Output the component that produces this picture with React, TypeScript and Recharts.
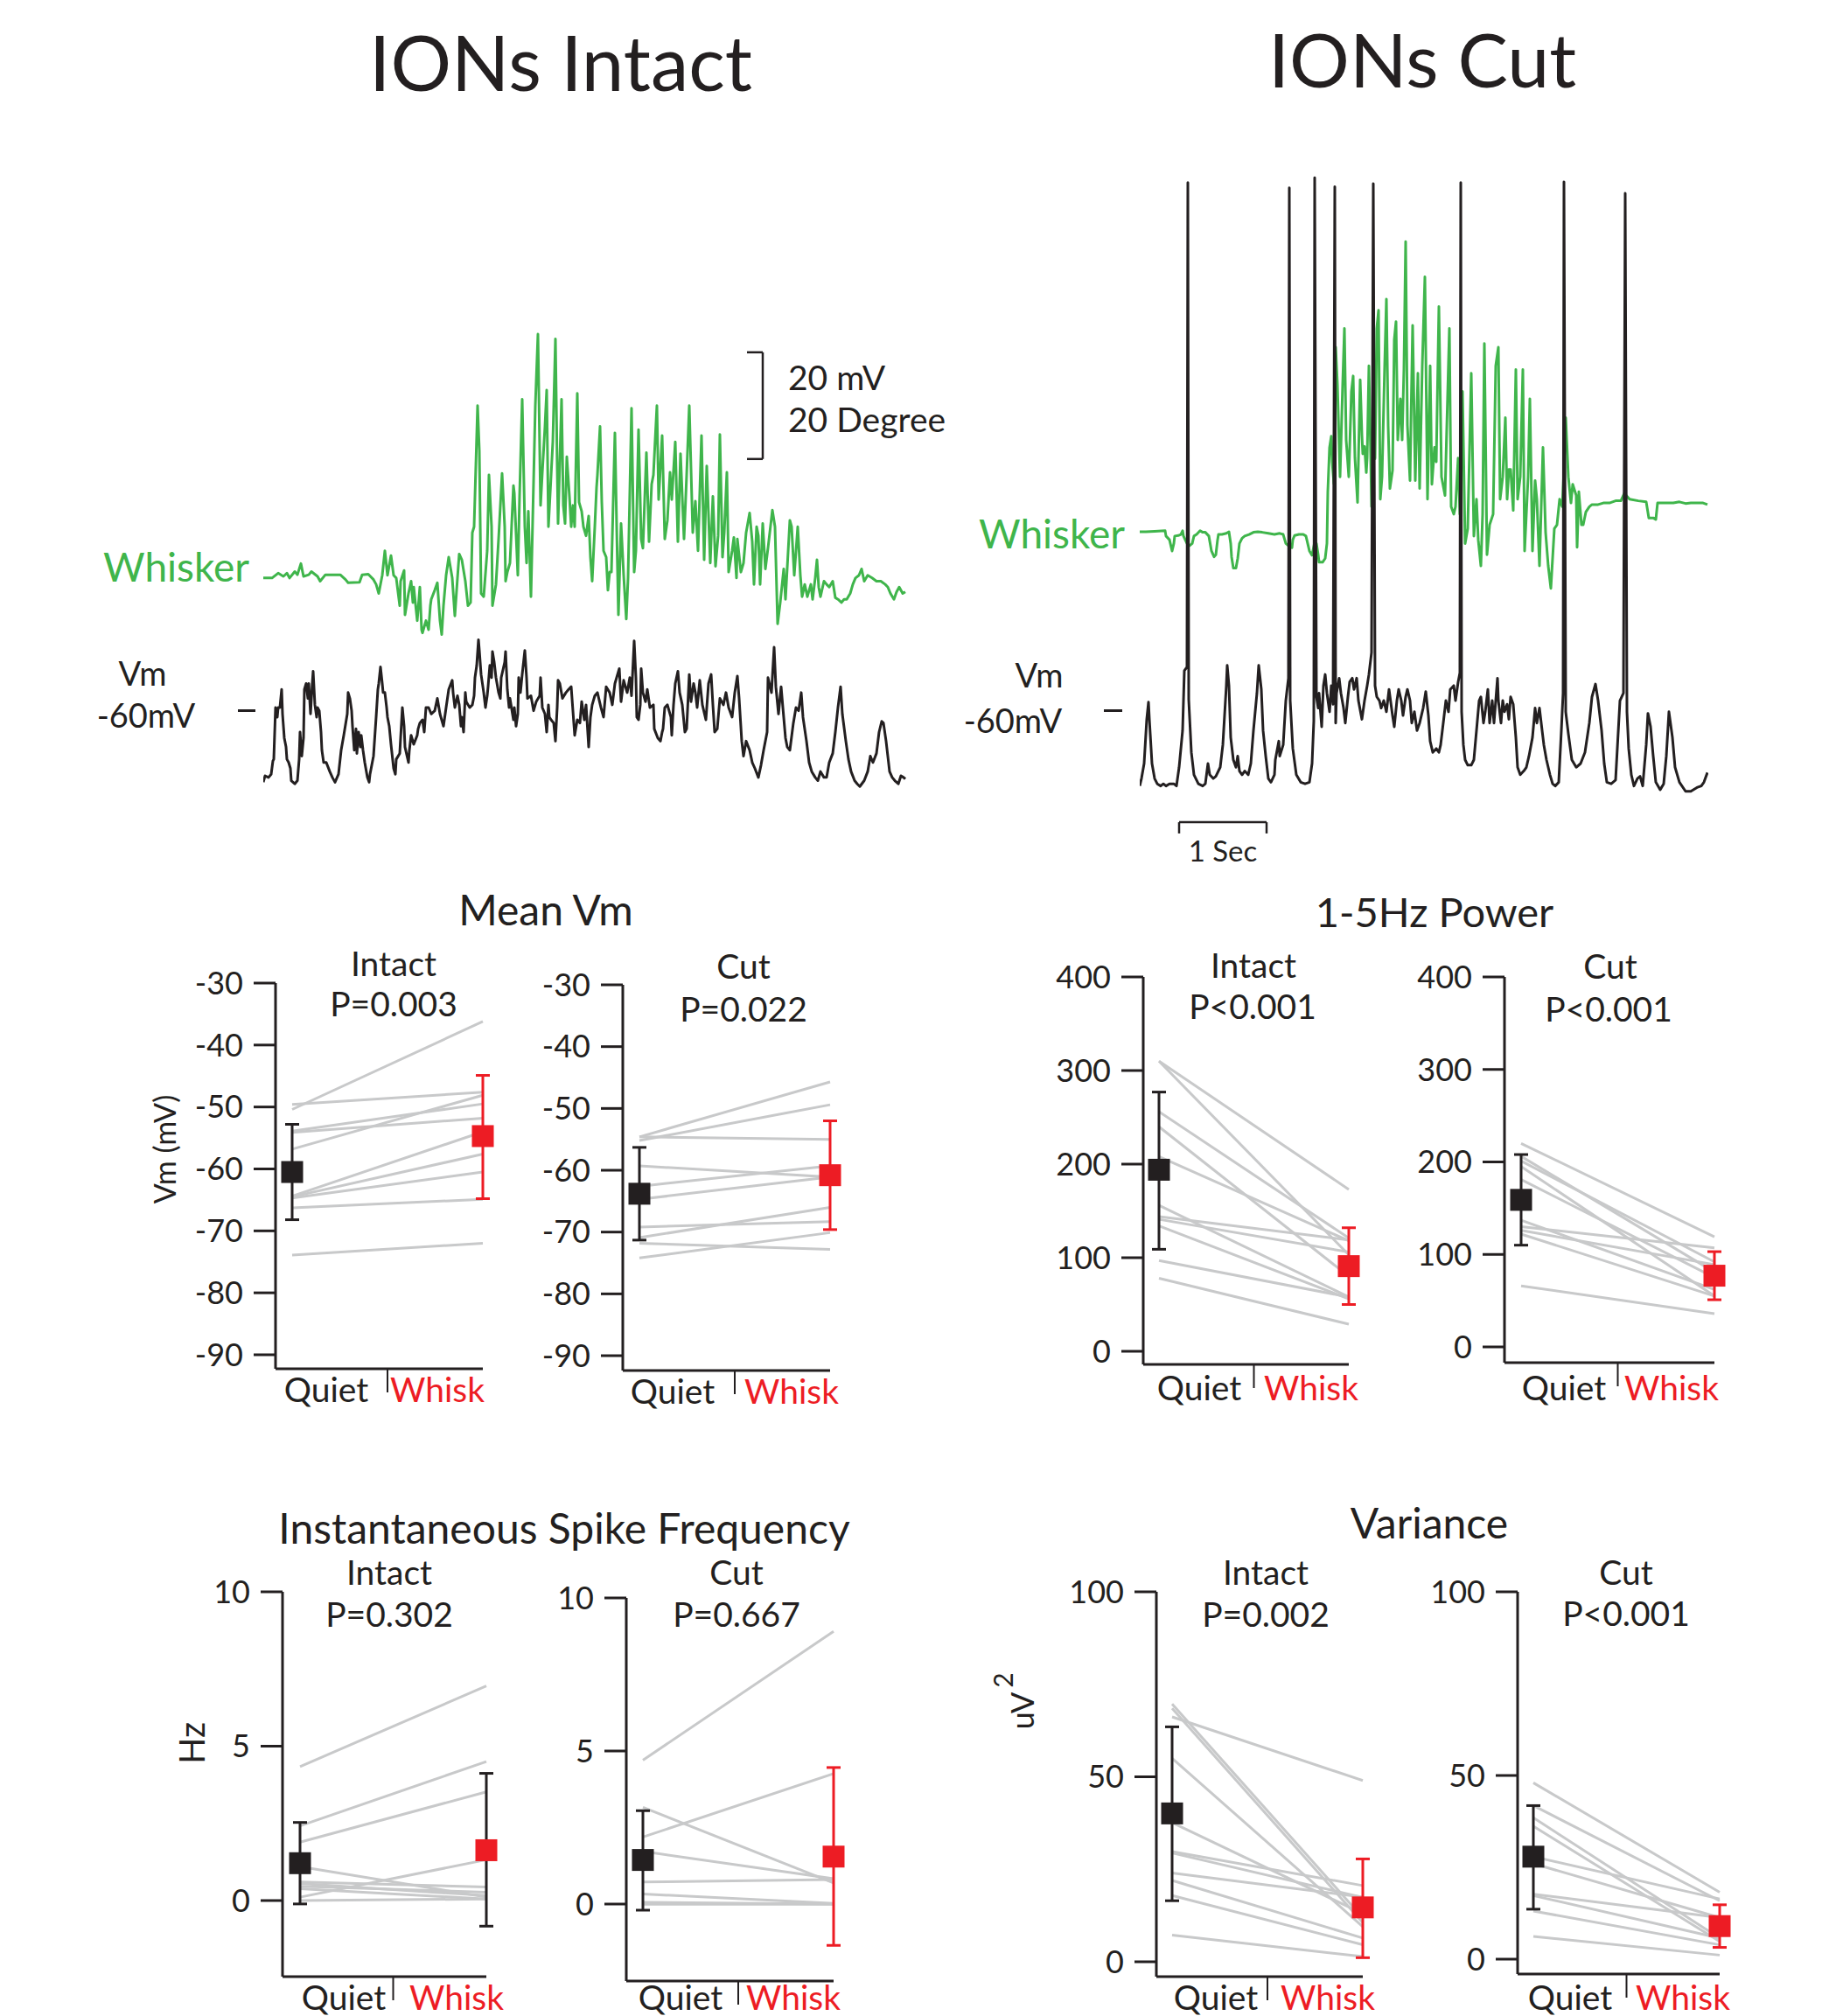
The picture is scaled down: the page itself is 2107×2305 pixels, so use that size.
import React from "react";
import { ComposedChart, Line, XAxis, YAxis, Scatter, ErrorBar, ReferenceLine } from "recharts";

const FONT = "Lato, 'Open Sans', sans-serif";
const INK = "#231f20";
const GREEN = "#3fb54b";
const RED = "#ed1c24";
const GRAY = "#c8c9ca";

// ---- example traces: [time (s), value] ----
// whisker angle (deg, relative to rest) and Vm (mV), ions intact
const intactWhisker: [number, number][] = [
  [0.0, -0.3], [0.1, -0.3], [0.17, 0.6], [0.23, 0.0], [0.27, 0.6], [0.3, -0.3], [0.36, 0.9], [0.39, 0.3], [0.43, 2.4], [0.46, 0.0],
  [0.52, 0.3], [0.55, 0.9], [0.62, 0.0], [0.65, -0.9], [0.71, 0.3], [0.88, 0.3], [0.94, -0.6], [0.97, -1.2], [1.1, -1.1], [1.13, 0.3],
  [1.2, 0.4], [1.26, -0.6], [1.29, -1.5], [1.32, -3.2], [1.36, 0.2], [1.39, 4.8], [1.42, 0.2], [1.46, 3.9], [1.49, 0.2], [1.52, -0.3],
  [1.56, -5.5], [1.57, -0.9], [1.61, 1.1], [1.62, -7.2], [1.66, -3.2], [1.69, -0.9], [1.71, -4.9], [1.72, -2.0], [1.76, -8.3], [1.79, -2.0],
  [1.81, -10.0], [1.82, -10.6], [1.86, -8.3], [1.89, -10.0], [1.91, -5.5], [1.92, -4.3], [1.96, -2.6], [1.99, -1.2], [2.02, -8.3], [2.04, -10.9],
  [2.06, -5.5], [2.09, 0.2], [2.12, 3.6], [2.16, -0.3], [2.19, -7.4], [2.22, -0.3], [2.24, 4.2], [2.27, 3.1], [2.31, -0.9], [2.34, -5.5],
  [2.37, -4.9], [2.39, 8.2], [2.41, 9.3], [2.45, 32.0], [2.47, 23.5], [2.49, -3.2], [2.52, -3.8], [2.56, 4.8], [2.58, 19.0], [2.61, 9.3],
  [2.62, -5.5], [2.66, -1.5], [2.69, 7.0], [2.73, 19.3], [2.76, 9.3], [2.77, -0.9], [2.79, 0.8], [2.82, 2.5], [2.86, 17.0], [2.87, 15.6],
  [2.91, 0.2], [2.93, 15.0], [2.96, 33.2], [2.99, 9.3], [3.01, 2.5], [3.03, 12.2], [3.06, -3.8], [3.08, 10.5], [3.11, 32.0], [3.14, 45.4],
  [3.17, 13.3], [3.19, 19.5], [3.22, 28.0], [3.24, 34.9], [3.26, 9.3], [3.31, 25.2], [3.34, 44.5], [3.36, 20.7], [3.37, 9.9], [3.41, 33.2],
  [3.43, 13.3], [3.45, 9.9], [3.47, 22.4], [3.5, 15.0], [3.52, 9.3], [3.54, 13.3], [3.56, 9.3], [3.59, 34.3], [3.61, 13.9], [3.64, 12.2],
  [3.66, 9.3], [3.69, 7.6], [3.72, 11.3], [3.74, 3.6], [3.76, -0.9], [3.79, 9.3], [3.81, 16.7], [3.82, 19.0], [3.85, 28.1], [3.87, 13.9],
  [3.89, 4.8], [3.92, 3.6], [3.94, -2.6], [3.96, 0.8], [3.98, 0.8], [4.02, 26.9], [4.04, 9.3], [4.06, -7.2], [4.09, 9.9], [4.12, 0.2],
  [4.15, -8.0], [4.17, -0.3], [4.21, 31.5], [4.24, 0.8], [4.26, 4.8], [4.29, 27.5], [4.32, 7.0], [4.34, 5.3], [4.38, 23.2], [4.41, 6.5],
  [4.44, 17.3], [4.46, 19.0], [4.5, 32.0], [4.52, 14.4], [4.56, 26.4], [4.59, 7.0], [4.62, 10.5], [4.65, 19.5], [4.67, 14.4], [4.71, 25.2],
  [4.74, 6.5], [4.77, 23.0], [4.81, 7.0], [4.84, 19.0], [4.87, 32.0], [4.91, 8.2], [4.94, 14.1], [4.97, 4.8], [5.01, 26.4], [5.04, 3.1],
  [5.07, 20.7], [5.11, 2.5], [5.14, 15.0], [5.17, 1.9], [5.2, 7.6], [5.22, 26.6], [5.25, 3.6], [5.27, 8.2], [5.3, 19.5], [5.32, 0.8],
  [5.36, 4.8], [5.38, 7.3], [5.41, -0.3], [5.42, 7.0], [5.46, 0.8], [5.49, 2.5], [5.52, 8.2], [5.56, 11.9], [5.59, 6.5], [5.61, -1.5],
  [5.64, 9.3], [5.66, 7.6], [5.68, -1.5], [5.71, 9.9], [5.74, 1.4], [5.77, 5.3], [5.82, 12.4], [5.85, 9.3], [5.88, -8.9], [5.91, -4.9],
  [5.95, 1.4], [5.97, -4.3], [6.02, 10.5], [6.04, 9.3], [6.07, 0.2], [6.11, 9.3], [6.14, 0.2], [6.16, -3.8], [6.19, -1.5], [6.22, -3.8],
  [6.26, -1.5], [6.28, -4.3], [6.31, -0.3], [6.33, 3.1], [6.35, -2.0], [6.37, -3.8], [6.41, -0.9], [6.44, -1.5], [6.47, -2.0], [6.51, -0.9],
  [6.54, -4.0], [6.57, -4.3], [6.61, -4.9], [6.64, -4.3], [6.67, -4.3], [6.71, -3.2], [6.74, -1.5], [6.77, -0.3], [6.81, 0.2], [6.84, 1.4],
  [6.87, -0.9], [6.91, 0.2], [6.96, -0.3], [7.01, -0.9], [7.06, -0.9], [7.11, -1.5], [7.14, -2.0], [7.17, -3.2], [7.21, -4.3], [7.24, -2.9],
  [7.27, -2.0], [7.31, -3.2], [7.34, -2.9],
];

const intactVm: [number, number][] = [
  [0.0, -73.5], [0.02, -72.3], [0.06, -72.6], [0.09, -72.0], [0.11, -69.5], [0.12, -69.2], [0.14, -59.5], [0.16, -61.3], [0.17, -59.5], [0.19, -59.5],
  [0.21, -56.1], [0.22, -60.7], [0.24, -65.2], [0.26, -66.9], [0.27, -69.2], [0.29, -69.8], [0.31, -70.9], [0.32, -73.2], [0.36, -73.8], [0.39, -73.2],
  [0.41, -69.2], [0.42, -64.1], [0.44, -68.6], [0.46, -65.2], [0.47, -56.1], [0.49, -55.0], [0.51, -57.8], [0.52, -55.0], [0.54, -60.7], [0.56, -55.0],
  [0.57, -52.7], [0.59, -59.0], [0.61, -61.3], [0.62, -59.5], [0.64, -60.1], [0.66, -64.1], [0.67, -67.5], [0.69, -69.8], [0.72, -69.8], [0.76, -71.5],
  [0.79, -72.6], [0.82, -73.5], [0.86, -72.0], [0.89, -67.5], [0.92, -64.7], [0.96, -60.7], [0.97, -56.7], [0.99, -57.8], [1.01, -60.1], [1.02, -63.0],
  [1.04, -67.5], [1.06, -63.5], [1.07, -68.1], [1.09, -64.1], [1.11, -66.9], [1.12, -64.7], [1.14, -67.5], [1.16, -69.8], [1.19, -72.6], [1.21, -73.5],
  [1.22, -72.0], [1.26, -68.6], [1.29, -61.3], [1.31, -56.1], [1.32, -55.0], [1.34, -51.9], [1.36, -55.0], [1.37, -56.7], [1.39, -56.7], [1.41, -59.5],
  [1.42, -61.3], [1.44, -63.0], [1.46, -66.4], [1.49, -70.9], [1.51, -72.0], [1.52, -69.2], [1.56, -68.1], [1.57, -65.2], [1.59, -59.5], [1.61, -63.0],
  [1.62, -66.9], [1.66, -69.8], [1.67, -67.5], [1.69, -64.7], [1.72, -66.4], [1.76, -64.7], [1.77, -63.5], [1.79, -62.4], [1.82, -61.8], [1.84, -64.1],
  [1.86, -59.5], [1.89, -59.5], [1.92, -60.7], [1.96, -60.1], [1.99, -57.8], [2.02, -60.7], [2.06, -63.0], [2.09, -59.5], [2.12, -56.1], [2.16, -54.4],
  [2.17, -56.7], [2.19, -59.5], [2.22, -57.3], [2.24, -59.0], [2.26, -63.0], [2.27, -61.3], [2.29, -64.1], [2.31, -56.7], [2.32, -58.4], [2.36, -59.5],
  [2.39, -59.0], [2.41, -57.3], [2.42, -53.9], [2.44, -51.6], [2.46, -46.8], [2.47, -48.8], [2.49, -53.3], [2.52, -56.7], [2.54, -59.5], [2.56, -57.3],
  [2.57, -55.6], [2.59, -51.6], [2.61, -53.9], [2.62, -49.0], [2.64, -51.0], [2.66, -53.9], [2.69, -56.7], [2.71, -57.8], [2.72, -53.9], [2.76, -51.0],
  [2.77, -49.0], [2.79, -56.1], [2.81, -59.5], [2.82, -57.8], [2.86, -61.8], [2.87, -59.5], [2.89, -63.0], [2.91, -60.7], [2.92, -53.9], [2.94, -56.7],
  [2.96, -53.3], [2.99, -48.8], [3.01, -53.9], [3.02, -57.8], [3.06, -57.3], [3.09, -60.1], [3.12, -58.4], [3.16, -57.3], [3.17, -53.9], [3.19, -59.5],
  [3.22, -60.7], [3.24, -64.1], [3.26, -59.0], [3.27, -61.3], [3.29, -61.8], [3.32, -62.4], [3.34, -65.8], [3.36, -59.5], [3.37, -54.4], [3.39, -55.0],
  [3.42, -57.8], [3.46, -56.7], [3.49, -56.1], [3.52, -55.6], [3.56, -64.7], [3.59, -61.8], [3.62, -62.4], [3.64, -58.4], [3.67, -61.8], [3.69, -59.0],
  [3.72, -66.9], [3.74, -61.3], [3.76, -59.0], [3.79, -57.3], [3.82, -56.7], [3.86, -59.5], [3.89, -61.3], [3.92, -55.6], [3.96, -56.7], [3.99, -59.0],
  [4.02, -55.0], [4.07, -52.2], [4.09, -58.4], [4.12, -54.4], [4.16, -56.7], [4.19, -53.9], [4.21, -57.3], [4.24, -47.0], [4.26, -53.9], [4.27, -61.3],
  [4.29, -61.8], [4.31, -59.0], [4.32, -52.2], [4.34, -56.7], [4.37, -58.4], [4.39, -56.1], [4.42, -59.5], [4.46, -59.0], [4.47, -63.5], [4.51, -65.2],
  [4.54, -65.8], [4.56, -64.1], [4.57, -63.5], [4.59, -59.5], [4.62, -59.0], [4.66, -61.3], [4.67, -64.7], [4.69, -59.0], [4.71, -55.0], [4.74, -52.7],
  [4.76, -56.7], [4.79, -59.0], [4.82, -64.1], [4.84, -63.5], [4.87, -53.3], [4.89, -58.4], [4.92, -55.0], [4.94, -56.7], [4.96, -59.5], [4.99, -54.4],
  [5.02, -59.0], [5.06, -61.8], [5.09, -55.0], [5.12, -53.3], [5.14, -59.0], [5.16, -64.1], [5.19, -63.5], [5.22, -57.8], [5.26, -59.0], [5.29, -56.7],
  [5.32, -59.5], [5.36, -61.3], [5.39, -56.7], [5.42, -53.6], [5.44, -57.8], [5.47, -65.8], [5.49, -68.6], [5.52, -65.8], [5.56, -67.5], [5.59, -69.8],
  [5.62, -70.9], [5.66, -72.6], [5.69, -70.3], [5.72, -67.5], [5.76, -64.1], [5.77, -53.9], [5.81, -56.7], [5.84, -48.2], [5.86, -55.6], [5.89, -60.7],
  [5.92, -55.6], [5.94, -59.5], [5.97, -65.2], [5.99, -66.9], [6.02, -67.5], [6.06, -62.4], [6.09, -59.5], [6.12, -60.1], [6.15, -56.7], [6.17, -61.3],
  [6.21, -65.8], [6.24, -69.8], [6.27, -71.5], [6.31, -72.6], [6.34, -73.2], [6.37, -71.5], [6.41, -72.6], [6.44, -72.6], [6.47, -69.8], [6.51, -68.1],
  [6.54, -64.1], [6.57, -59.5], [6.6, -55.6], [6.62, -60.7], [6.66, -65.8], [6.69, -69.2], [6.72, -71.5], [6.76, -73.2], [6.79, -73.8], [6.82, -74.3],
  [6.87, -73.2], [6.91, -71.5], [6.94, -68.6], [6.97, -69.8], [7.01, -68.1], [7.04, -64.1], [7.07, -62.1], [7.09, -62.4], [7.12, -65.8], [7.16, -71.5],
  [7.19, -72.6], [7.22, -73.2], [7.26, -73.8], [7.29, -72.3], [7.32, -72.6], [7.34, -72.9],
];

// ions cut
const cutWhisker: [number, number][] = [
  [0.0, 0.0], [0.07, 0.0], [0.17, 0.1], [0.29, 0.2], [0.3, -0.8], [0.34, -1.5], [0.37, -3.6], [0.39, -2.2], [0.4, -0.8], [0.44, -0.7],
  [0.47, -0.5], [0.49, 0.2], [0.5, -0.8], [0.54, -2.2], [0.57, -2.6], [0.6, -2.2], [0.62, -0.8], [0.65, -0.5], [0.69, 0.2], [0.72, -0.1],
  [0.75, -0.1], [0.79, -0.8], [0.82, -3.6], [0.85, -4.7], [0.87, -4.3], [0.89, -1.5], [0.9, -0.5], [0.94, -0.5], [0.99, -0.3], [1.02, 0.0],
  [1.04, -2.2], [1.05, -4.7], [1.07, -6.8], [1.1, -6.8], [1.12, -5.0], [1.14, -2.2], [1.17, -1.2], [1.2, -0.8], [1.25, -0.5], [1.3, -0.1],
  [1.35, 0.0], [1.4, -0.1], [1.47, -0.3], [1.54, -0.5], [1.6, -0.3], [1.64, -0.5], [1.67, -2.2], [1.7, -2.6], [1.74, -3.0], [1.75, -1.5],
  [1.77, -0.7], [1.82, -0.5], [1.87, -0.5], [1.9, -0.8], [1.94, -3.6], [1.97, -4.4], [2.0, -1.9], [2.02, -2.2], [2.04, -4.3], [2.05, -5.7],
  [2.09, -5.7], [2.12, -5.0], [2.14, -2.2], [2.15, 7.5], [2.17, 15.8], [2.19, 17.9], [2.2, 13.1], [2.22, 9.0], [2.24, 34.6], [2.26, 27.6],
  [2.29, 10.3], [2.32, 27.6], [2.34, 38.1], [2.36, 17.2], [2.39, 10.3], [2.42, 26.3], [2.44, 29.2], [2.46, 13.9], [2.49, 5.5], [2.52, 28.5],
  [2.54, 18.1], [2.55, 14.6], [2.57, 16.0], [2.59, 11.1], [2.6, 13.9], [2.62, 31.1], [2.64, 14.4], [2.65, 4.7], [2.67, 17.2], [2.69, 13.7],
  [2.71, 38.1], [2.73, 41.5], [2.75, 6.1], [2.77, 10.3], [2.8, 31.1], [2.82, 43.6], [2.84, 19.9], [2.86, 8.1], [2.89, 11.5], [2.91, 36.0],
  [2.93, 39.4], [2.95, 17.2], [2.98, 24.9], [3.0, 17.2], [3.02, 30.4], [3.04, 54.4], [3.06, 20.0], [3.09, 9.6], [3.1, 20.0], [3.12, 38.7],
  [3.15, 9.6], [3.18, 29.7], [3.2, 8.1], [3.23, 31.1], [3.26, 47.8], [3.29, 6.1], [3.32, 31.1], [3.34, 8.9], [3.37, 15.8], [3.39, 13.1],
  [3.42, 42.2], [3.45, 10.3], [3.49, 6.8], [3.54, 38.1], [3.56, 4.7], [3.59, 3.3], [3.61, 4.7], [3.64, 13.8], [3.66, 3.3], [3.69, 26.3],
  [3.72, -2.2], [3.75, 0.6], [3.79, 29.7], [3.82, -0.8], [3.85, 6.1], [3.87, -1.5], [3.9, -6.4], [3.92, 3.3], [3.94, 35.3], [3.97, -4.3],
  [4.0, 1.3], [4.04, 3.3], [4.07, 31.1], [4.1, 34.6], [4.12, 6.1], [4.15, 10.3], [4.18, 21.4], [4.2, 6.1], [4.22, 11.7], [4.24, 11.7],
  [4.27, 4.0], [4.3, 30.4], [4.32, 6.1], [4.35, 10.3], [4.38, 30.4], [4.4, -3.6], [4.44, 10.3], [4.46, 24.9], [4.49, -3.6], [4.52, 9.6],
  [4.54, 6.1], [4.57, -6.4], [4.61, 15.8], [4.64, -0.1], [4.67, -6.4], [4.7, -10.6], [4.74, 0.6], [4.77, 1.3], [4.8, 6.1], [4.83, 4.7],
  [4.85, 11.7], [4.87, 21.4], [4.9, 10.3], [4.93, 5.4], [4.95, 8.9], [4.99, 6.8], [5.0, -2.9], [5.02, 7.5], [5.05, 1.3], [5.07, 1.3],
  [5.1, 3.7], [5.14, 4.7], [5.17, 5.1], [5.24, 5.1], [5.3, 5.4], [5.37, 5.4], [5.44, 5.8], [5.5, 5.8], [5.54, 7.2], [5.6, 6.1],
  [5.7, 5.8], [5.79, 5.6], [5.82, 2.6], [5.87, 2.6], [5.9, 2.3], [5.92, 5.4], [5.97, 5.4], [6.04, 5.4], [6.1, 5.4], [6.17, 5.6],
  [6.24, 5.3], [6.3, 5.4], [6.37, 5.4], [6.44, 5.4], [6.49, 5.1],
];

const cutVm: [number, number][] = [
  [0.0, -74.2], [0.02, -72.8], [0.05, -70.0], [0.08, -61.7], [0.1, -58.5], [0.11, -61.7], [0.14, -70.0], [0.17, -72.8], [0.2, -73.8], [0.24, -74.2],
  [0.27, -73.8], [0.3, -74.2], [0.34, -73.8], [0.39, -73.8], [0.42, -74.2], [0.45, -70.7], [0.49, -63.8], [0.51, -52.6], [0.54, -51.9], [0.55, 38.9],
  [0.56, -58.0], [0.59, -67.9], [0.62, -72.1], [0.67, -73.8], [0.72, -74.2], [0.75, -73.8], [0.78, -70.0], [0.8, -72.1], [0.84, -72.8], [0.87, -72.4],
  [0.92, -70.7], [0.95, -66.5], [0.99, -55.4], [1.0, -51.6], [1.02, -55.4], [1.04, -65.1], [1.07, -69.3], [1.1, -70.7], [1.12, -68.6], [1.14, -71.4],
  [1.17, -72.1], [1.2, -71.4], [1.24, -72.1], [1.27, -70.0], [1.3, -63.8], [1.34, -56.8], [1.36, -51.6], [1.39, -56.1], [1.41, -63.8], [1.44, -68.6],
  [1.47, -72.8], [1.5, -73.5], [1.54, -72.1], [1.55, -69.3], [1.59, -65.8], [1.6, -68.6], [1.64, -66.5], [1.67, -58.2], [1.7, -54.0], [1.71, 37.9],
  [1.72, -58.2], [1.75, -67.2], [1.79, -72.1], [1.84, -73.5], [1.89, -73.8], [1.94, -73.5], [1.97, -70.0], [1.99, -62.0], [2.0, 39.8], [2.02, -57.5],
  [2.04, -59.6], [2.05, -56.8], [2.08, -63.1], [2.1, -55.4], [2.12, -53.3], [2.14, -56.8], [2.17, -60.3], [2.19, -55.4], [2.21, -58.9], [2.23, 38.1],
  [2.24, -62.4], [2.25, -56.8], [2.28, -54.0], [2.3, -56.8], [2.33, -59.6], [2.35, -62.4], [2.38, -57.5], [2.4, -54.7], [2.43, -54.0], [2.45, -56.1],
  [2.48, -54.0], [2.5, -58.2], [2.54, -61.7], [2.57, -58.2], [2.6, -55.4], [2.62, -53.3], [2.65, -49.2], [2.67, 38.7], [2.69, -55.4], [2.71, -57.5],
  [2.74, -58.2], [2.76, -59.6], [2.79, -58.2], [2.82, -60.3], [2.85, -56.1], [2.89, -61.0], [2.91, -63.1], [2.94, -58.2], [2.96, -56.1], [2.99, -58.2],
  [3.01, -61.0], [3.04, -57.5], [3.06, -56.1], [3.09, -58.2], [3.11, -62.4], [3.14, -60.3], [3.17, -63.8], [3.2, -62.4], [3.24, -59.6], [3.27, -56.5],
  [3.3, -61.0], [3.32, -65.8], [3.35, -67.9], [3.39, -67.2], [3.42, -67.9], [3.44, -66.5], [3.47, -62.4], [3.5, -58.2], [3.53, -60.3], [3.55, -56.1],
  [3.59, -55.4], [3.61, -58.2], [3.64, -54.7], [3.66, -53.0], [3.67, 38.9], [3.68, -60.3], [3.7, -66.5], [3.72, -69.3], [3.75, -70.3], [3.79, -70.3],
  [3.82, -69.3], [3.85, -63.8], [3.88, -58.2], [3.9, -57.5], [3.93, -62.4], [3.95, -60.3], [3.98, -56.1], [4.0, -62.4], [4.03, -58.2], [4.05, -62.4],
  [4.09, -54.0], [4.1, -58.2], [4.13, -62.4], [4.15, -58.2], [4.17, -60.3], [4.2, -58.9], [4.22, -61.7], [4.24, -57.5], [4.27, -58.9], [4.3, -65.1],
  [4.32, -70.7], [4.35, -72.1], [4.39, -71.4], [4.42, -70.7], [4.45, -68.6], [4.49, -65.1], [4.52, -59.6], [4.54, -62.4], [4.57, -59.6], [4.6, -63.8],
  [4.62, -66.5], [4.65, -69.3], [4.69, -72.1], [4.72, -73.8], [4.75, -74.2], [4.79, -73.5], [4.82, -63.8], [4.84, -56.8], [4.85, 39.0], [4.87, -60.3],
  [4.9, -64.4], [4.94, -69.3], [4.99, -70.7], [5.04, -70.0], [5.09, -67.9], [5.14, -62.4], [5.17, -57.5], [5.21, -55.1], [5.24, -58.2], [5.28, -63.8],
  [5.31, -70.0], [5.34, -73.5], [5.39, -73.8], [5.44, -73.1], [5.49, -58.2], [5.53, -56.8], [5.55, 36.9], [5.57, -60.3], [5.59, -67.2], [5.62, -72.1],
  [5.65, -74.2], [5.69, -72.8], [5.72, -72.4], [5.75, -74.2], [5.79, -66.5], [5.81, -60.6], [5.84, -63.1], [5.87, -68.6], [5.9, -73.5], [5.95, -74.9],
  [5.99, -73.8], [6.02, -68.6], [6.05, -60.3], [6.09, -65.1], [6.12, -70.7], [6.17, -73.5], [6.24, -75.2], [6.3, -75.2], [6.37, -74.5], [6.42, -74.2],
  [6.45, -73.5], [6.49, -71.7],
];

// ---- summary panels: quiet vs whisk per cell, plus mean and error range ----
const meanVmIntactQuiet = [-50.4, -49.6, -53.9, -54.1, -56.8, -64.4, -64.5, -64.7, -66.3, -73.9];
const meanVmIntactWhisk = [-36.2, -47.6, -49.5, -51.8, -48.1, -54.0, -57.6, -60.5, -64.9, -72.0];
const meanVmIntactMean = [-60.5, -54.7];
const meanVmIntactLow = [-68.2, -64.8];
const meanVmIntactHigh = [-52.8, -44.9];

const meanVmCutQuiet = [-54.6, -55.2, -54.6, -59.3, -62.6, -64.7, -69.2, -70.9, -71.8, -74.2];
const meanVmCutWhisk = [-45.7, -49.4, -55.0, -61.1, -59.3, -61.1, -68.3, -66.0, -72.8, -70.1];
const meanVmCutMean = [-63.8, -60.8];
const meanVmCutLow = [-71.3, -69.6];
const meanVmCutHigh = [-56.3, -52.0];

const powerIntactQuiet = [310, 310, 256, 240, 208, 156, 144, 141, 134, 97, 78];
const powerIntactWhisk = [173, 103, 121, 80, 118, 58, 119, 106, 56, 58, 29];
const powerIntactMean = [194, 91];
const powerIntactLow = [109, 50];
const powerIntactHigh = [277, 132];

const powerCutQuiet = [220, 206, 201, 195, 181, 137, 130, 126, 122, 66];
const powerCutWhisk = [119, 81, 92, 55, 75, 62, 107, 89, 55, 36];
const powerCutMean = [159, 77];
const powerCutLow = [110, 51];
const powerCutHigh = [208, 103];

const spikeIntactQuiet = [4.34, 2.42, 1.89, 1.1, 0.6, 0.55, 0.46, 0.38, 0.11, 0.0];
const spikeIntactWhisk = [6.95, 4.5, 3.52, 0.11, 0.44, 0.16, 0.27, 0.05, 1.32, 0.05];
const spikeIntactMean = [1.21, 1.63];
const spikeIntactLow = [-0.11, -0.83];
const spikeIntactHigh = [2.53, 4.12];

const spikeCutQuiet = [4.7, 2.19, 3.16, 1.72, 0.72, 0.33, 0.06, 0.0, 0.0];
const spikeCutWhisk = [8.91, 4.26, 0.69, 0.83, 0.8, 0.02, 0.0, 0.0, 0.0];
const spikeCutMean = [1.44, 1.55];
const spikeCutLow = [-0.2, -1.35];
const spikeCutHigh = [3.05, 4.46];

const varIntactQuiet = [69.7, 68.5, 66.2, 55.0, 37.6, 29.8, 29.4, 24.0, 22.0, 17.9, 7.2];
const varIntactWhisk = [11.9, 10.6, 49.0, 9.5, 13.0, 20.6, 17.4, 17.5, 6.4, 4.6, 1.4];
const varIntactMean = [40.1, 14.7];
const varIntactLow = [16.5, 1.1];
const varIntactHigh = [63.5, 27.8];

const varCutQuiet = [48.0, 41.8, 38.5, 36.2, 27.9, 26.0, 17.7, 17.3, 13.1, 6.2];
const varCutWhisk = [18.2, 15.9, 5.7, 4.8, 16.4, 11.3, 11.3, 5.7, 3.9, 1.1];
const varCutMean = [27.9, 9.0];
const varCutLow = [13.6, 3.2];
const varCutHigh = [41.8, 14.8];

const vmTicks = [-30, -40, -50, -60, -70, -80, -90];
const powerTicks = [0, 100, 200, 300, 400];
const spikeTicks = [0, 5, 10];
const varTicks = [0, 50, 100];

// scale bars
const SCALE_UNITS = 20; // 20 mV / 20 degree
const SCALE_SEC = 1;
const VM_REF = -60;
const PX_PER_UNIT = 6.1;

function Label({ x, y, size, color = INK, rotate = 0, anchor = "center", children }: any) {
  const tx = anchor === "left" ? "0" : anchor === "right" ? "-100%" : "-50%";
  return (
    <div
      style={{
        position: "absolute",
        left: x,
        top: y,
        transform: `translate(${tx}, -50%) rotate(${rotate}deg)`,
        fontSize: size,
        lineHeight: 1,
        whiteSpace: "nowrap",
        color,
        fontFamily: FONT,
      }}
    >
      {children}
    </div>
  );
}

function TracePanel({ left, top, width, height, tMax, whisker, vm, greenZeroY, vmRefY, children }: any) {
  const bottom = top + height;
  const gDomain = [-(bottom - greenZeroY) / PX_PER_UNIT, (greenZeroY - top) / PX_PER_UNIT];
  const vDomain = [VM_REF - (bottom - vmRefY) / PX_PER_UNIT, VM_REF + (vmRefY - top) / PX_PER_UNIT];
  const gData = whisker.map(([t, v]: number[]) => ({ t, v }));
  const vData = vm.map(([t, v]: number[]) => ({ t, v }));
  return (
    <div style={{ position: "absolute", left, top }}>
      <ComposedChart width={width} height={height} margin={{ top: 0, right: 0, bottom: 0, left: 0 }} style={{ overflow: "visible" }}>
        <XAxis type="number" dataKey="t" domain={[0, tMax]} hide />
        <YAxis yAxisId="g" type="number" domain={gDomain} hide />
        <YAxis yAxisId="v" type="number" domain={vDomain} hide />
        <Line yAxisId="g" data={gData} dataKey="v" type="linear" stroke={GREEN} strokeWidth={3} dot={false} isAnimationActive={false} strokeLinejoin="round" />
        <Line yAxisId="v" data={vData} dataKey="v" type="linear" stroke={INK} strokeWidth={3} dot={false} isAnimationActive={false} strokeLinejoin="round" />
        {children}
      </ComposedChart>
    </div>
  );
}

function PairPanel({ lay, ticks, quiet, whisk, mean, low, high, whiskErr = RED }: any) {
  const ML = 130, MT = 24, MR = 24, MB = 40;
  const span = lay.whiskX - lay.quietX;
  const xMin = -(lay.quietX - lay.axisX) / span;
  const yMin = lay.topVal - (lay.xAxisY - lay.topY) / lay.ppu;
  const width = ML + (lay.whiskX - lay.axisX) + MR;
  const height = MT + (lay.xAxisY - lay.topY) + MB;
  const axisStyle = { stroke: INK, strokeWidth: 3 };
  const sq = (fill: string) => (p: any) => <rect x={p.cx - 12.5} y={p.cy - 12.5} width={25} height={25} fill={fill} />;
  const colors = [INK, RED];
  const errColors = [INK, whiskErr];
  return (
    <div style={{ position: "absolute", left: lay.axisX - ML, top: lay.topY - MT }}>
      <ComposedChart width={width} height={height} margin={{ top: MT, right: MR, bottom: 0, left: 0 }} style={{ overflow: "visible" }}>
        <XAxis
          type="number"
          dataKey="x"
          domain={[xMin, 1]}
          ticks={[0.5]}
          tickSize={27}
          height={MB}
          tickFormatter={() => ""}
          axisLine={axisStyle}
          tickLine={{ stroke: INK, strokeWidth: 2 }}
        />
        <YAxis
          type="number"
          dataKey="y"
          domain={[yMin, lay.topVal]}
          ticks={ticks}
          interval={0}
          width={ML}
          tickSize={25}
          tickMargin={12}
          axisLine={axisStyle}
          tickLine={axisStyle}
          tick={{ fontSize: 36, fill: INK, fontFamily: FONT }}
        />
        {quiet.map((q: number, i: number) => (
          <Line
            key={i}
            data={[{ x: 0, y: q }, { x: 1, y: whisk[i] }]}
            dataKey="y"
            stroke={GRAY}
            strokeWidth={3}
            dot={false}
            isAnimationActive={false}
          />
        ))}
        {[0, 1].map((k) => (
          <Scatter
            key={"e" + k}
            data={[{ x: k, y: mean[k], e: [mean[k] - low[k], high[k] - mean[k]] }]}
            shape={() => <g />}
            isAnimationActive={false}
          >
            <ErrorBar dataKey="e" direction="y" width={8} stroke={errColors[k]} strokeWidth={3} />
          </Scatter>
        ))}
        {[0, 1].map((k) => (
          <Scatter key={"m" + k} data={[{ x: k, y: mean[k] }]} shape={sq(colors[k])} isAnimationActive={false} />
        ))}
      </ComposedChart>
    </div>
  );
}

function QW({ q, w, y }: any) {
  return (
    <>
      <Label x={q} y={y} size={39}>Quiet</Label>
      <Label x={w} y={y} size={39} color={RED}>Whisk</Label>
    </>
  );
}

function Dash({ x, y, w }: any) {
  return <div style={{ position: "absolute", left: x, top: y - 1.5, width: w, height: 3, background: INK }} />;
}

export default function App() {
  return (
    <div style={{ position: "absolute", left: 0, top: 0, width: 2107, height: 2305, background: "#fff", overflow: "hidden" }}>
      <style>{`body{margin:0}`}</style>

      <Label x={641} y={70} size={87}>IONs Intact</Label>
      <Label x={1626} y={67} size={86}>IONs Cut</Label>

      {/* intact traces */}
      <Label x={118} y={648} size={46} color={GREEN} anchor="left">Whisker</Label>
      <Label x={163} y={769} size={38}>Vm</Label>
      <Label x={167} y={817} size={38}>-60mV</Label>
      <Dash x={272} y={812} w={20} />
      <TracePanel left={301} top={360} width={736} height={550} tMax={7.36} whisker={intactWhisker} vm={intactVm} greenZeroY={659} vmRefY={812}>
        <ReferenceLine yAxisId="g" segment={[{ x: 5.71, y: 22 }, { x: 5.71, y: 22 + SCALE_UNITS }]} stroke={INK} strokeWidth={2.5} ifOverflow="visible" />
        <ReferenceLine yAxisId="g" segment={[{ x: 5.53, y: 22 }, { x: 5.71, y: 22 }]} stroke={INK} strokeWidth={2.5} ifOverflow="visible" />
        <ReferenceLine yAxisId="g" segment={[{ x: 5.53, y: 22 + SCALE_UNITS }, { x: 5.71, y: 22 + SCALE_UNITS }]} stroke={INK} strokeWidth={2.5} ifOverflow="visible" />
      </TracePanel>
      <Label x={901} y={431} size={39} anchor="left">20 mV</Label>
      <Label x={901} y={479} size={39} anchor="left">20 Degree</Label>

      {/* cut traces */}
      <Label x={1119} y={610} size={46} color={GREEN} anchor="left">Whisker</Label>
      <Label x={1188} y={771} size={38}>Vm</Label>
      <Label x={1158} y={823} size={38}>-60mV</Label>
      <Dash x={1262} y={812} w={21} />
      <TracePanel left={1303} top={190} width={650} height={770} tMax={6.5} whisker={cutWhisker} vm={cutVm} greenZeroY={608} vmRefY={812}>
        <ReferenceLine yAxisId="v" segment={[{ x: 0.45, y: -81 }, { x: 0.45 + SCALE_SEC, y: -81 }]} stroke={INK} strokeWidth={2.5} ifOverflow="visible" />
        <ReferenceLine yAxisId="v" segment={[{ x: 0.45, y: -81 }, { x: 0.45, y: -83.1 }]} stroke={INK} strokeWidth={2.5} ifOverflow="visible" />
        <ReferenceLine yAxisId="v" segment={[{ x: 0.45 + SCALE_SEC, y: -81 }, { x: 0.45 + SCALE_SEC, y: -83.1 }]} stroke={INK} strokeWidth={2.5} ifOverflow="visible" />
      </TracePanel>
      <Label x={1398} y={972} size={33}>1 Sec</Label>

      {/* Mean Vm */}
      <Label x={624} y={1040} size={48}>Mean Vm</Label>
      <Label x={188} y={1314} size={34} rotate={-90}>Vm (mV)</Label>
      <Label x={450} y={1101} size={39}>Intact</Label>
      <Label x={450} y={1147} size={39}>P=0.003</Label>
      <PairPanel
        lay={{ axisX: 315, quietX: 334, whiskX: 552, topY: 1124, xAxisY: 1565, topVal: -30, ppu: 7.083 }}
        ticks={vmTicks}
        quiet={meanVmIntactQuiet}
        whisk={meanVmIntactWhisk}
        mean={meanVmIntactMean}
        low={meanVmIntactLow}
        high={meanVmIntactHigh}
      />
      <QW q={373} w={500} y={1588} />
      <Label x={850} y={1104} size={39}>Cut</Label>
      <Label x={850} y={1153} size={39}>P=0.022</Label>
      <PairPanel
        lay={{ axisX: 712, quietX: 731, whiskX: 949, topY: 1126, xAxisY: 1567, topVal: -30, ppu: 7.067 }}
        ticks={vmTicks}
        quiet={meanVmCutQuiet}
        whisk={meanVmCutWhisk}
        mean={meanVmCutMean}
        low={meanVmCutLow}
        high={meanVmCutHigh}
      />
      <QW q={769} w={905} y={1590} />

      {/* 1-5Hz power */}
      <Label x={1640} y={1042} size={47}>1-5Hz Power</Label>
      <Label x={1433} y={1103} size={39}>Intact</Label>
      <Label x={1432} y={1150} size={39}>P&lt;0.001</Label>
      <PairPanel
        lay={{ axisX: 1307, quietX: 1325, whiskX: 1542, topY: 1117, xAxisY: 1560, topVal: 400, ppu: 1.07 }}
        ticks={powerTicks}
        quiet={powerIntactQuiet}
        whisk={powerIntactWhisk}
        mean={powerIntactMean}
        low={powerIntactLow}
        high={powerIntactHigh}
      />
      <QW q={1371} w={1499} y={1586} />
      <Label x={1841} y={1104} size={39}>Cut</Label>
      <Label x={1839} y={1153} size={39}>P&lt;0.001</Label>
      <PairPanel
        lay={{ axisX: 1720, quietX: 1739, whiskX: 1960, topY: 1117, xAxisY: 1558, topVal: 400, ppu: 1.0575 }}
        ticks={powerTicks}
        quiet={powerCutQuiet}
        whisk={powerCutWhisk}
        mean={powerCutMean}
        low={powerCutLow}
        high={powerCutHigh}
      />
      <QW q={1788} w={1911} y={1586} />

      {/* Instantaneous spike frequency */}
      <Label x={645} y={1747} size={48}>Instantaneous Spike Frequency</Label>
      <Label x={219} y={1993} size={40} rotate={-90}>Hz</Label>
      <Label x={445} y={1797} size={39}>Intact</Label>
      <Label x={445} y={1845} size={39}>P=0.302</Label>
      <PairPanel
        lay={{ axisX: 323, quietX: 343, whiskX: 556, topY: 1820, xAxisY: 2260, topVal: 10, ppu: 35.3 }}
        ticks={spikeTicks}
        quiet={spikeIntactQuiet}
        whisk={spikeIntactWhisk}
        mean={spikeIntactMean}
        low={spikeIntactLow}
        high={spikeIntactHigh}
        whiskErr={INK}
      />
      <QW q={393} w={522} y={2283} />
      <Label x={842} y={1797} size={39}>Cut</Label>
      <Label x={842} y={1845} size={39}>P=0.667</Label>
      <PairPanel
        lay={{ axisX: 716, quietX: 735, whiskX: 953, topY: 1827, xAxisY: 2265, topVal: 10, ppu: 35 }}
        ticks={spikeTicks}
        quiet={spikeCutQuiet}
        whisk={spikeCutWhisk}
        mean={spikeCutMean}
        low={spikeCutLow}
        high={spikeCutHigh}
      />
      <QW q={778} w={907} y={2283} />

      {/* Variance */}
      <Label x={1634} y={1741} size={48}>Variance</Label>
      <Label x={1168} y={1956} size={36} rotate={-90}>uV</Label>
      <Label x={1146} y={1921} size={30} rotate={-90}>2</Label>
      <Label x={1447} y={1797} size={39}>Intact</Label>
      <Label x={1447} y={1845} size={39}>P=0.002</Label>
      <PairPanel
        lay={{ axisX: 1322, quietX: 1340, whiskX: 1558, topY: 1820, xAxisY: 2260, topVal: 100, ppu: 4.23 }}
        ticks={varTicks}
        quiet={varIntactQuiet}
        whisk={varIntactWhisk}
        mean={varIntactMean}
        low={varIntactLow}
        high={varIntactHigh}
      />
      <QW q={1390} w={1518} y={2283} />
      <Label x={1859} y={1797} size={39}>Cut</Label>
      <Label x={1859} y={1844} size={39}>P&lt;0.001</Label>
      <PairPanel
        lay={{ axisX: 1735, quietX: 1753, whiskX: 1966, topY: 1820, xAxisY: 2257, topVal: 100, ppu: 4.2 }}
        ticks={varTicks}
        quiet={varCutQuiet}
        whisk={varCutWhisk}
        mean={varCutMean}
        low={varCutLow}
        high={varCutHigh}
      />
      <QW q={1795} w={1924} y={2283} />
    </div>
  );
}
